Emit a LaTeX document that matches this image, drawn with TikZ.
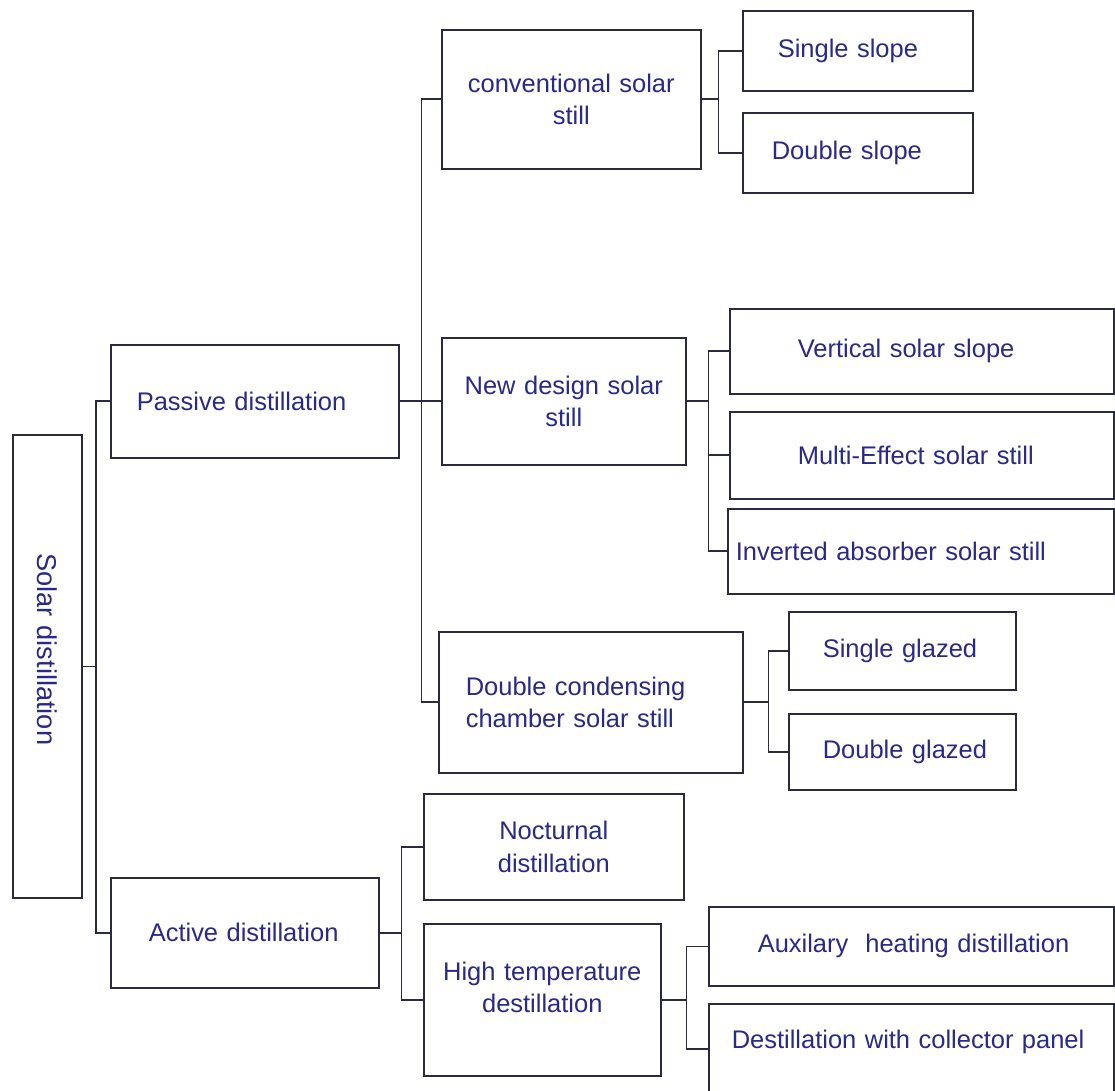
\documentclass[tikz,border=0pt]{standalone}
\usepackage{fontspec}
\setmainfont{Liberation Sans}
\usetikzlibrary{positioning}
\definecolor{Ink}{HTML}{2A2A40}
\definecolor{Txt}{HTML}{29298A}
\tikzset{
  box/.style={draw=Ink,line width=0.9pt,fill=white,anchor=north west,inner xsep=0pt,inner ysep=0pt,text=Txt,font=\fontsize{14.5}{18.5}\selectfont},
  lft/.style={align=left,execute at begin node={\leftskip=#1\relax}},
  mid/.style={align=center},
  link/.style={draw=Ink,line width=0.9pt},
}
\begin{document}
\begin{tikzpicture}[x=0.02cm,y=-0.02cm]
 \path[use as bounding box,fill=white] (0,0) rectangle (1115,1091);
 \node[box,lft=2.36cm,anchor=center,rotate=-90,text width=9.26cm,minimum height=1.38cm,font=\fontsize{15.5}{19}\selectfont] (root) at (47.5,666.5) {Solar distillation};
 % first level
 \node[box,lft=0.52cm,text width=5.76cm,minimum height=2.26cm] (pas) at (110,344) {Passive distillation};
 \node[box,lft=0.76cm,text width=5.36cm,minimum height=2.2cm] (act) at (110,877) {Active distillation};
 % passive branch
 \node[box,mid,text width=5.18cm,minimum height=2.78cm] (conv) at (441,29) {conventional solar\\still};
 \node[box,lft=0.7cm,text width=4.6cm,minimum height=1.6cm] (sslope) at (742,10) {Single slope};
 \node[box,lft=0.58cm,text width=4.6cm,minimum height=1.6cm] (dslope) at (742,112) {Double slope};
 \node[box,mid,text width=4.88cm,minimum height=2.54cm] (newd) at (441,337) {New design solar\\still};
 \node[box,lft=1.36cm,text width=7.68cm,minimum height=1.7cm] (vert) at (729,308) {Vertical solar slope};
 \node[box,lft=1.36cm,text width=7.68cm,minimum height=1.74cm] (multi) at (729,411) {Multi-Effect solar still};
 \node[box,lft=0.16cm,text width=7.72cm,minimum height=1.7cm] (inv) at (727,508) {Inverted absorber solar still};
 \node[box,lft=0.54cm,text width=6.08cm,minimum height=2.82cm] (dcc) at (438,631) {Double condensing\\chamber solar still};
 \node[box,lft=0.68cm,text width=4.54cm,minimum height=1.56cm] (sglz) at (788,611) {Single glazed};
 \node[box,lft=0.68cm,text width=4.54cm,minimum height=1.52cm] (dglz) at (788,713) {Double glazed};
 % active branch
 \node[box,mid,text width=5.2cm,minimum height=2.12cm] (noct) at (423,793) {Nocturnal\\distillation};
 \node[box,mid,text width=4.74cm,minimum height=3.04cm,text depth=1.15cm] (high) at (423,923) {High temperature\\destillation};
 \node[box,lft=0.98cm,text width=8.1cm,minimum height=1.58cm] (aux) at (708,906) {Auxilary~ heating distillation};
 \node[box,lft=0.46cm,text width=8.1cm,minimum height=1.8cm,text depth=0.4cm] (coll) at (708,1003) {Destillation with collector panel};
 % connectors
 \foreach \k in {pas,act} \draw[link] (root.north) -- ++(13,0) |- (\k.west);
 \foreach \k in {conv,newd,dcc} \draw[link] (pas.east) -- ++(22,0) |- (\k.west);
 \foreach \k in {sslope,dslope} \draw[link] (conv.east) -- ++(17,0) |- (\k.west);
 \foreach \k in {vert,multi,inv} \draw[link] (newd.east) -- ++(22,0) |- (\k.west);
 \foreach \k in {sglz,dglz} \draw[link] (dcc.east) -- ++(25,0) |- (\k.west);
 \foreach \k in {noct,high} \draw[link] (act.east) -- ++(22,0) |- (\k.west);
 \foreach \k in {aux,coll} \draw[link] (high.east) -- ++(25,0) |- (\k.west);
\end{tikzpicture}
\end{document}
